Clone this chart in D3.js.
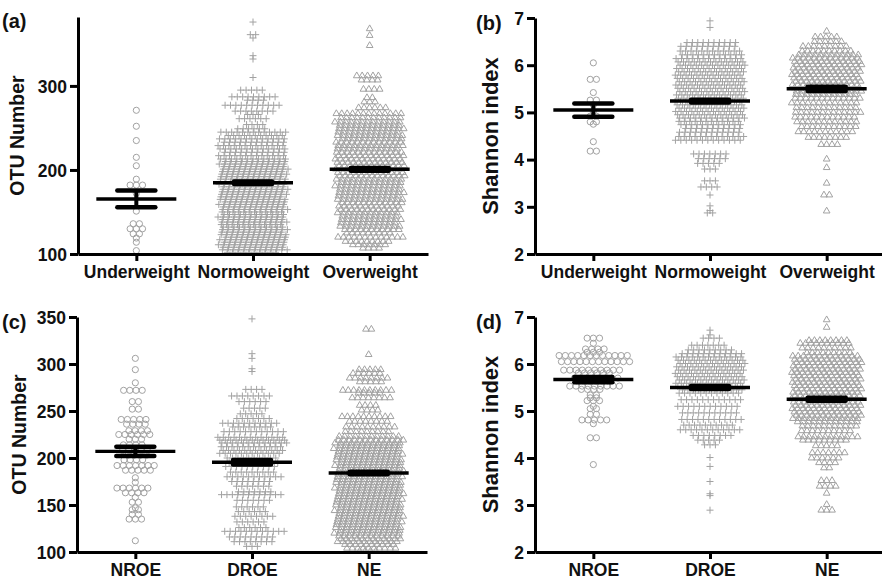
<!DOCTYPE html>
<html>
<head>
<meta charset="utf-8">
<script src="https://cdn.jsdelivr.net/npm/d3@7/dist/d3.min.js"></script>
<style>
  body { margin: 0; background: #fff; }
  text { font-family: "Liberation Sans", Arial, sans-serif; font-weight: bold; fill: #111; }
</style>
</head>
<body>
<svg id="chart" width="882" height="580"></svg>
<script>
// categories
var bmiGroups = ["Underweight", "Normoweight", "Overweight"];
var eatGroups = ["NROE", "DROE", "NE"];

// each row of a swarm: [value, number of samples drawn side by side at that value]
// (a) OTU number by BMI
var otuUnder = [[271,1],[252,1],[235,1],[215,1],[205,1],[189,1],[182,3],[172,1],[151,1],[136,2],[130,3],[124,2],[119,1],[114,1],[104,1]];
var otuNormo = [[376,1],[361,2],[357,1],[336,1],[332,1],[310,1],[295,5],[287,9],[283,4],[277,11],[270,8],[266,3],[261,6],[254,4],[249,6],
  [245,13],[241,11],[237,13],[233,12],[229,13],[225,13],[221,12],[217,13],[213,13],[210,12],[207,13],[204,12],[201,13],[198,12],[195,13],
  [192,12],[189,13],[186,12],[183,13],[180,12],[177,13],[174,12],[171,13],[168,12],[165,13],[162,12],[159,13],[156,12],[153,13],[150,12],
  [147,12],[144,13],[141,12],[138,13],[135,12],[132,12],[129,13],[126,12],[123,13],[120,12],[117,13],[114,12],[111,13],[108,12],[105,13],[102,10]];
var otuOver = [[368,1],[360,1],[348,1],[312,5],[307,4],[296,4],[286,2],[281,3],[274,6],[267,13],[262,12],[257,13],[253,12],[249,13],
  [245,12],[241,13],[237,12],[233,13],[229,13],[225,12],[221,13],[217,13],[213,13],[209,13],[205,13],[201,13],[197,13],[193,13],[189,13],
  [185,12],[181,13],[177,12],[173,13],[169,12],[165,13],[161,12],[157,12],[153,12],[149,12],[145,11],[141,12],[137,11],[133,12],[129,11],
  [125,9],[120,13],[115,9],[111,7],[107,4]];

// (b) Shannon index by BMI
var shanUnder = [[6.05,1],[5.70,2],[5.42,1],[5.26,2],[5.16,1],[5.02,1],[4.92,2],[4.80,2],[4.75,1],[4.38,1],[4.18,2]];
var shanNormo = [[6.94,1],[6.80,1],[6.48,10],[6.40,11],[6.30,12],[6.22,12],[6.14,13],[6.07,13],[6.00,13],[5.93,13],[5.86,13],[5.79,13],
  [5.72,13],[5.65,13],[5.58,13],[5.51,13],[5.44,13],[5.37,13],[5.30,13],[5.23,13],[5.16,13],[5.09,13],[5.02,13],[4.95,13],[4.88,13],
  [4.81,12],[4.74,12],[4.66,11],[4.58,12],[4.49,13],[4.41,13],[4.12,7],[4.02,6],[3.92,5],[3.80,3],[3.55,3],[3.42,4],[3.25,1],[3.02,1],
  [2.92,1],[2.87,2]];
var shanOver = [[6.72,1],[6.60,5],[6.50,6],[6.40,9],[6.30,10],[6.22,12],[6.15,13],[6.08,13],[6.01,13],[5.94,13],[5.87,13],[5.80,13],
  [5.73,13],[5.66,13],[5.59,13],[5.52,13],[5.45,13],[5.38,12],[5.30,13],[5.20,13],[5.10,12],[5.00,13],[4.90,12],[4.80,12],[4.70,11],
  [4.59,11],[4.47,8],[4.32,4],[4.01,1],[3.83,1],[3.50,1],[3.25,2],[2.91,1]];

// (c) OTU number by eating pattern
var otuNroe = [[306,1],[294,1],[280,1],[272,4],[260,2],[252,2],[241,5],[236,4],[229,4],[225,6],[220,3],[214,4],[208,5],[203,4],[198,4],
  [192,7],[187,5],[179,1],[174,1],[168,6],[163,4],[158,1],[153,2],[147,1],[145,2],[140,2],[135,3],[112,1]];
var otuDroe = [[348,1],[311,1],[306,1],[295,1],[292,1],[273,4],[266,8],[260,6],[253,5],[247,5],[242,7],[237,11],[233,8],[228,12],
  [222,13],[219,13],[216,13],[212,12],[208,12],[205,12],[200,10],[195,10],[191,10],[185,9],[180,11],[175,8],[170,7],[164,7],[161,12],
  [155,7],[148,6],[143,6],[138,8],[132,6],[126,6],[122,12],[116,9],[111,8],[106,3]];
var otuNe = [[337,2],[310,1],[294,5],[290,6],[285,8],[281,5],[272,10],[269,5],[264,8],[256,4],[251,4],[244,10],[239,8],[233,10],[228,9],
  [223,12],[219,13],[216,13],[213,12],[210,13],[207,12],[204,13],[201,12],[198,13],[195,12],[192,13],[189,12],[186,13],[183,12],[180,13],
  [177,12],[174,13],[171,12],[168,13],[165,12],[162,13],[159,12],[156,13],[153,12],[150,13],[147,12],[144,13],[141,12],[138,13],[135,12],
  [132,13],[129,12],[126,13],[123,12],[120,13],[117,12],[114,12],[111,12],[108,10],[104,10],[101,4]];

// (d) Shannon index by eating pattern
var shanNroe = [[6.55,3],[6.44,1],[6.32,4],[6.25,3],[6.18,12],[6.05,12],[5.87,10],[5.81,6],[5.70,8],[5.64,6],[5.53,9],[5.46,4],[5.34,2],
  [5.28,2],[5.22,3],[5.10,1],[5.05,2],[4.93,2],[4.81,5],[4.73,1],[4.43,2],[3.86,1]];
var shanDroe = [[6.72,1],[6.62,1],[6.55,4],[6.40,7],[6.30,9],[6.22,12],[6.15,13],[6.08,13],[6.01,13],[5.94,13],[5.87,13],[5.80,13],
  [5.73,13],[5.66,13],[5.59,13],[5.52,13],[5.45,12],[5.38,12],[5.24,12],[5.10,12],[4.96,11],[4.82,12],[4.70,10],[4.60,12],[4.48,8],
  [4.38,5],[4.28,3],[4.01,1],[3.82,1],[3.50,1],[3.24,1],[3.20,1],[2.89,1]];
var shanNe = [[6.94,1],[6.78,1],[6.50,8],[6.44,10],[6.34,10],[6.24,9],[6.17,13],[6.10,13],[6.03,13],[5.96,13],[5.89,13],[5.82,13],
  [5.75,13],[5.68,13],[5.61,13],[5.54,13],[5.47,13],[5.40,13],[5.33,13],[5.26,13],[5.19,13],[5.12,13],[5.05,13],[4.98,13],[4.91,13],
  [4.84,13],[4.77,12],[4.68,11],[4.58,10],[4.45,12],[4.38,9],[4.26,5],[4.11,7],[4.00,6],[3.90,4],[3.79,2],[3.52,3],[3.40,4],[3.25,1],
  [3.01,1],[2.89,3]];

// mean and SEM
var otuBmiMean = [165.5, 184.8, 200.8], otuBmiSem = [10, 1.6, 1.6];
var shanBmiMean = [5.05, 5.24, 5.50], shanBmiSem = [0.14, 0.03, 0.045];
var otuEatMean = [207, 195.4, 184], otuEatSem = [5, 2.4, 1.4];
var shanEatMean = [5.67, 5.50, 5.25], shanEatSem = [0.056, 0.03, 0.03];

var otuTicks = [100, 200, 300];
var otuTicksC = [100, 150, 200, 250, 300, 350];
var shanTicks = [2, 3, 4, 5, 6, 7];

var svg = d3.select("#chart");
var grey = "#a2a2a2";

var panels = [
  {tag: "(a)", tagX: 2, tagY: 28, cats: bmiGroups, groups: [otuUnder, otuNormo, otuOver], mean: otuBmiMean, sem: otuBmiSem,
   domain: [100, 382], ticks: otuTicks, title: "OTU Number", titleX: 17, titleSize: 19.5, left: 78, right: 428, top: 17, bottom: 254},
  {tag: "(b)", tagX: 476, tagY: 30, cats: bmiGroups, groups: [shanUnder, shanNormo, shanOver], mean: shanBmiMean, sem: shanBmiSem,
   domain: [2, 7], ticks: shanTicks, title: "Shannon index", titleX: 490, titleSize: 22, left: 535, right: 885, top: 18, bottom: 254},
  {tag: "(c)", tagX: 2, tagY: 329, cats: eatGroups, groups: [otuNroe, otuDroe, otuNe], mean: otuEatMean, sem: otuEatSem,
   domain: [100, 350], ticks: otuTicksC, title: "OTU Number", titleX: 19, titleSize: 19.5, left: 77, right: 427, top: 317, bottom: 552},
  {tag: "(d)", tagX: 476, tagY: 329, cats: eatGroups, groups: [shanNroe, shanDroe, shanNe], mean: shanEatMean, sem: shanEatSem,
   domain: [2, 7], ticks: shanTicks, title: "Shannon index", titleX: 490, titleSize: 22, left: 535, right: 885, top: 317, bottom: 552}
];

//marker shape per column: circle, plus, triangle
var shapes = [
  d3.symbol(d3.symbolCircle, 30)(),
  d3.symbol(d3.symbolPlus, 18)(),
  d3.symbol(d3.symbolTriangle2, 32)()
];
var spacing = [6.2, 5.4, 5.4];

panels.forEach(function(p) {
  var g = svg.append("g");
  var y = d3.scaleLinear().domain(p.domain).range([p.bottom, p.top]);
  var x = d3.scalePoint().domain(p.cats).range([p.left, p.right]).padding(0.5);

  //the swarms - rows are nudged sideways a little so the columns don't line up like a grid
  p.groups.forEach(function(rows, gi) {
    var cx = x(p.cats[gi]);
    var dx = spacing[gi];
    var pts = [];
    rows.forEach(function(r, ri) {
      var nudge = r[1] > 3 ? ((ri * 0.37) % 1 - 0.5) * dx : 0;
      for (var i = 0; i < r[1]; i++) {
        pts.push([cx + (i - (r[1] - 1) / 2) * dx + nudge, y(r[0])]);
      }
    });
    g.append("g").selectAll("path").data(pts).join("path")
      .attr("d", shapes[gi])
      .attr("transform", function(d) { return "translate(" + d[0] + "," + d[1] + ")"; })
      .attr("fill", "none")
      .attr("stroke", grey)
      .attr("stroke-width", 1);
  });

  //mean line with SEM bars on top
  p.cats.forEach(function(c, gi) {
    var cx = x(c), m = p.mean[gi], s = p.sem[gi];
    var bar = g.append("g").attr("stroke", "#000");
    bar.append("line").attr("x1", cx).attr("x2", cx).attr("y1", y(m - s)).attr("y2", y(m + s)).attr("stroke-width", 4);
    [m - s, m + s].forEach(function(v) {
      bar.append("line").attr("x1", cx - 19).attr("x2", cx + 19).attr("y1", y(v)).attr("y2", y(v))
        .attr("stroke-width", 4.5).attr("stroke-linecap", "round");
    });
    bar.append("line").attr("x1", cx - 40).attr("x2", cx + 40).attr("y1", y(m)).attr("y2", y(m)).attr("stroke-width", 3.4);
  });

  //axes
  var ya = g.append("g").attr("transform", "translate(" + p.left + ",0)")
    .call(d3.axisLeft(y).tickValues(p.ticks).tickFormat(d3.format("d")).tickSize(8).tickSizeOuter(0).tickPadding(3));
  var xa = g.append("g").attr("transform", "translate(0," + p.bottom + ")")
    .call(d3.axisBottom(x).tickSize(7).tickSizeOuter(0).tickPadding(5));
  [ya, xa].forEach(function(a) {
    a.select(".domain").attr("stroke", "#000").attr("stroke-width", 3);
    a.selectAll(".tick line").attr("stroke", "#000").attr("stroke-width", 3);
    a.selectAll(".tick text").attr("font-size", 17.5).attr("font-family", null).attr("fill", "#111");
  });
  ya.selectAll(".tick text").attr("dy", "0.36em");

  g.append("text").attr("transform", "translate(" + p.titleX + "," + ((p.top + p.bottom) / 2) + ") rotate(-90)")
    .attr("text-anchor", "middle").attr("dominant-baseline", "central")
    .attr("font-size", p.titleSize).text(p.title);

  g.append("text").attr("x", p.tagX).attr("y", p.tagY).attr("font-size", 20).text(p.tag);
});
</script>
</body>
</html>
